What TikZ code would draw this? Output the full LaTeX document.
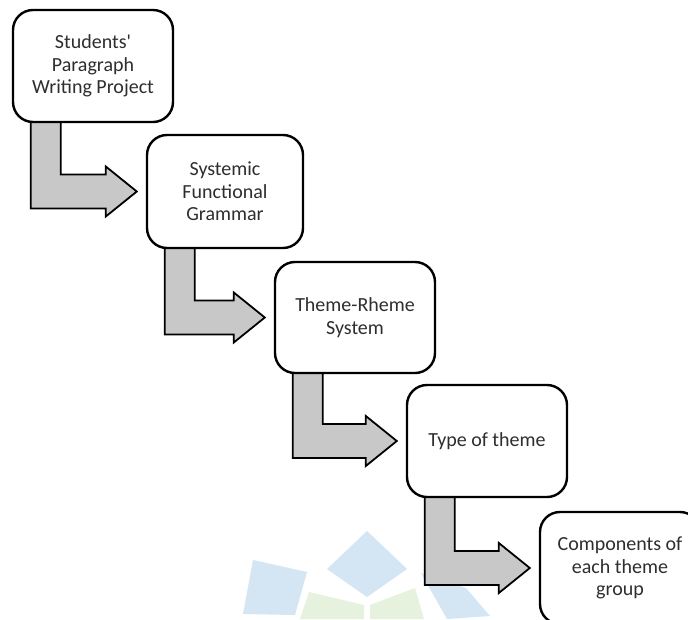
\documentclass[tikz,border=0pt]{standalone}
\usepackage{fontspec}
\setmainfont{Carlito}[Ligatures=TeXOff]
\usetikzlibrary{calc,backgrounds}
\definecolor{arrowgray}{RGB}{200,200,200}
\definecolor{wmblue}{RGB}{212,229,243}
\definecolor{wmgreen}{RGB}{231,242,222}
\newcommand{\steparrow}[2]{%
  \path let \p1=(#1.south west), \p2=(#2.west) in
    [flow] (\x1+19pt,\y1+4pt) -- (\x1+49pt,\y1+4pt) -- (\x1+49pt,\y2+17pt)
      -- (\x2-40pt,\y2+17pt) -- (\x2-40pt,\y2+25pt) -- (\x2-9pt,\y2)
      -- (\x2-40pt,\y2-25pt) -- (\x2-40pt,\y2-17pt) -- (\x1+19pt,\y2-17pt) -- cycle;}
\begin{document}
\begin{tikzpicture}[x=1pt,y=-1pt,
  box/.style={draw=black, line width=2.4pt, rounded corners=20pt, fill=white,
    align=center, minimum width=160pt, minimum height=112pt, inner sep=0pt,
    font=\fontsize{20}{22.5}\selectfont, text=black!82},
  flow/.style={fill=arrowgray, draw=black, line width=1.8pt, line join=miter},
  mark blue/.style={fill=wmblue, draw=none},
  mark green/.style={fill=wmgreen, draw=none}]
\useasboundingbox (0,0) rectangle (688,619);
\clip (0,0) rectangle (688,619);
% boxes
\node[box] (b1) at (93,66) {Students'\\Paragraph\\Writing Project};
\node[box, minimum width=156pt, minimum height=113pt] (b2) at (225,191.5) {Systemic\\Functional\\Grammar};
\node[box, minimum height=111pt] (b3) at (355,317.5) {Theme-Rheme\\System};
\node[box] (b4) at (487,441) {Type of theme};
\node[box] (b5) at (620,568) {Components of\\each theme\\group};
% page, faint watermark and arrows behind the boxes
\begin{pgfonlayer}{background}
\fill[white] (0,0) rectangle (688,619);
\path[mark blue] (253,560) -- (307,572) -- (295,615) -- (243,614) -- cycle;
\path[mark blue] (367,531) -- (407,569) -- (367,597) -- (327,569) -- cycle;
\path[mark blue] (421,573) -- (466,588) -- (490,616) -- (447,619) -- cycle;
\path[mark green] (309,592) -- (364,605) -- (364,619) -- (300,619) -- cycle;
\path[mark green] (370,605) -- (415,588) -- (424,619) -- (370,619) -- cycle;
\steparrow{b1}{b2}
\steparrow{b2}{b3}
\steparrow{b3}{b4}
\steparrow{b4}{b5}
\end{pgfonlayer}
\end{tikzpicture}
\end{document}
